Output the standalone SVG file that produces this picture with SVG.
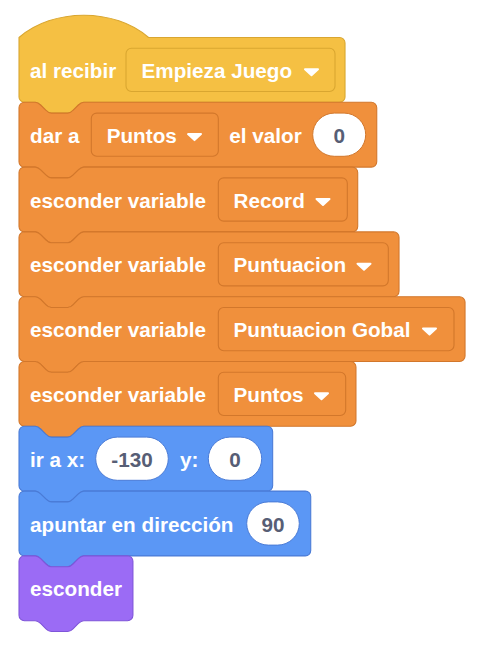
<svg xmlns="http://www.w3.org/2000/svg" width="486" height="650" viewBox="0 0 486 650">
<style>
.lbl{font-family:"Liberation Sans",Arial,sans-serif;font-weight:bold;font-size:20.7px;fill:#FFFFFF}
.num{font-family:"Liberation Sans",Arial,sans-serif;font-weight:bold;font-size:20.7px;fill:#575E75;text-anchor:middle}
.ev{fill:#F5C043;stroke:#D9A630;stroke-width:0.8}
.var{fill:#F0903C;stroke:#D2772B;stroke-width:0.8}
.mot{fill:#5B97F5;stroke:#4A7BD6;stroke-width:0.8}
.look{fill:#9B6BF5;stroke:#7F55D9;stroke-width:0.8}
.ddev{fill:#F5C043;stroke:#D9A630;stroke-width:1.1}
.ddvar{fill:#F0903C;stroke:#D2772B;stroke-width:1.1}
.oval{fill:#FFFFFF;stroke:#D2772B;stroke-width:1}
.ovalm{fill:#FFFFFF;stroke:#4A7BD6;stroke-width:1}
.arr{fill:#FFFFFF;stroke:#FFFFFF;stroke-width:2;stroke-linejoin:round}
</style>
<rect width="486" height="650" fill="#FFFFFF"/>
<g id="connectors"/>

<g id="hat-al-recibir">
<path class="ev" transform="translate(19,37.5) scale(1.35)" d="M0,0 c25,-22 71,-22 96,0 H237.5 a4,4 0 0 1 4,4 V44 a4,4 0 0 1 -4,4 H48 c-2,0 -3,1 -4,2 l-4,4 c-1,1 -2,2 -4,2 h-12 c-2,0 -3,-1 -4,-2 l-4,-4 c-1,-1 -2,-2 -4,-2 H4 a4,4 0 0 1 -4,-4 Z"/>
<text class="lbl" x="30" y="77.9">al recibir</text>
<rect class="ddev" x="126" y="48.3" width="209" height="43.2" rx="5.4"/>
<text class="lbl" x="141.5" y="77.9">Empieza Juego</text>
<path class="arr" d="M305,69.3 H318 L311.5,75.3 Z"/>
</g>

<g id="dar-a-puntos">
<path class="var" transform="translate(19,102.3) scale(1.35)" d="M0,4 A4,4 0 0 1 4,0 H12 c2,0 3,1 4,2 l4,4 c1,1 2,2 4,2 h12 c2,0 3,-1 4,-2 l4,-4 c1,-1 2,-2 4,-2 H261 a4,4 0 0 1 4,4 V44 a4,4 0 0 1 -4,4 H48 c-2,0 -3,1 -4,2 l-4,4 c-1,1 -2,2 -4,2 h-12 c-2,0 -3,-1 -4,-2 l-4,-4 c-1,-1 -2,-2 -4,-2 H4 a4,4 0 0 1 -4,-4 Z"/>
<text class="lbl" x="30" y="142.7">dar a</text>
<rect class="ddvar" x="91.3" y="113.1" width="127" height="43.2" rx="5.4"/>
<text class="lbl" x="106.7" y="142.7">Puntos</text>
<path class="arr" d="M188,134.1 H201 L194.5,140.1 Z"/>
<text class="lbl" x="229.3" y="142.7">el valor</text>
<rect class="oval" x="312.7" y="113.1" width="53" height="43.2" rx="21.6"/>
<text class="num" x="339.2" y="142.7">0</text>
</g>

<g id="esconder-record">
<path class="var" transform="translate(19,167.1) scale(1.35)" d="M0,4 A4,4 0 0 1 4,0 H12 c2,0 3,1 4,2 l4,4 c1,1 2,2 4,2 h12 c2,0 3,-1 4,-2 l4,-4 c1,-1 2,-2 4,-2 H246.9 a4,4 0 0 1 4,4 V44 a4,4 0 0 1 -4,4 H48 c-2,0 -3,1 -4,2 l-4,4 c-1,1 -2,2 -4,2 h-12 c-2,0 -3,-1 -4,-2 l-4,-4 c-1,-1 -2,-2 -4,-2 H4 a4,4 0 0 1 -4,-4 Z"/>
<text class="lbl" x="30" y="207.5">esconder variable</text>
<rect class="ddvar" x="218.3" y="177.9" width="129" height="43.2" rx="5.4"/>
<text class="lbl" x="233.5" y="207.5">Record</text>
<path class="arr" d="M316.5,198.9 H329.5 L323,204.9 Z"/>
</g>

<g id="esconder-puntuacion">
<path class="var" transform="translate(19,231.9) scale(1.35)" d="M0,4 A4,4 0 0 1 4,0 H12 c2,0 3,1 4,2 l4,4 c1,1 2,2 4,2 h12 c2,0 3,-1 4,-2 l4,-4 c1,-1 2,-2 4,-2 H277.5 a4,4 0 0 1 4,4 V44 a4,4 0 0 1 -4,4 H48 c-2,0 -3,1 -4,2 l-4,4 c-1,1 -2,2 -4,2 h-12 c-2,0 -3,-1 -4,-2 l-4,-4 c-1,-1 -2,-2 -4,-2 H4 a4,4 0 0 1 -4,-4 Z"/>
<text class="lbl" x="30" y="272.3">esconder variable</text>
<rect class="ddvar" x="218.3" y="242.7" width="170" height="43.2" rx="5.4"/>
<text class="lbl" x="233.5" y="272.3">Puntuacion</text>
<path class="arr" d="M357.5,263.7 H370.5 L364,269.7 Z"/>
</g>

<g id="esconder-puntuacion-gobal">
<path class="var" transform="translate(19,296.7) scale(1.35)" d="M0,4 A4,4 0 0 1 4,0 H12 c2,0 3,1 4,2 l4,4 c1,1 2,2 4,2 h12 c2,0 3,-1 4,-2 l4,-4 c1,-1 2,-2 4,-2 H326.4 a4,4 0 0 1 4,4 V44 a4,4 0 0 1 -4,4 H48 c-2,0 -3,1 -4,2 l-4,4 c-1,1 -2,2 -4,2 h-12 c-2,0 -3,-1 -4,-2 l-4,-4 c-1,-1 -2,-2 -4,-2 H4 a4,4 0 0 1 -4,-4 Z"/>
<text class="lbl" x="30" y="337.1">esconder variable</text>
<rect class="ddvar" x="218.3" y="307.5" width="235.7" height="43.2" rx="5.4"/>
<text class="lbl" x="233.5" y="337.1">Puntuacion Gobal</text>
<path class="arr" d="M423,328.5 H436 L429.5,334.5 Z"/>
</g>

<g id="esconder-puntos">
<path class="var" transform="translate(19,361.5) scale(1.35)" d="M0,4 A4,4 0 0 1 4,0 H12 c2,0 3,1 4,2 l4,4 c1,1 2,2 4,2 h12 c2,0 3,-1 4,-2 l4,-4 c1,-1 2,-2 4,-2 H245.6 a4,4 0 0 1 4,4 V44 a4,4 0 0 1 -4,4 H48 c-2,0 -3,1 -4,2 l-4,4 c-1,1 -2,2 -4,2 h-12 c-2,0 -3,-1 -4,-2 l-4,-4 c-1,-1 -2,-2 -4,-2 H4 a4,4 0 0 1 -4,-4 Z"/>
<text class="lbl" x="30" y="401.9">esconder variable</text>
<rect class="ddvar" x="218.3" y="372.3" width="127.4" height="43.2" rx="5.4"/>
<text class="lbl" x="233.5" y="401.9">Puntos</text>
<path class="arr" d="M315,393.3 H328 L321.5,399.3 Z"/>
</g>

<g id="ir-a-xy">
<path class="mot" transform="translate(19,426.3) scale(1.35)" d="M0,4 A4,4 0 0 1 4,0 H12 c2,0 3,1 4,2 l4,4 c1,1 2,2 4,2 h12 c2,0 3,-1 4,-2 l4,-4 c1,-1 2,-2 4,-2 H183.9 a4,4 0 0 1 4,4 V44 a4,4 0 0 1 -4,4 H48 c-2,0 -3,1 -4,2 l-4,4 c-1,1 -2,2 -4,2 h-12 c-2,0 -3,-1 -4,-2 l-4,-4 c-1,-1 -2,-2 -4,-2 H4 a4,4 0 0 1 -4,-4 Z"/>
<text class="lbl" x="30" y="466.7">ir a x:</text>
<rect class="ovalm" x="95.7" y="437.1" width="72.6" height="43.2" rx="21.6"/>
<text class="num" x="132" y="466.7">-130</text>
<text class="lbl" x="180" y="466.7">y:</text>
<rect class="ovalm" x="208.3" y="437.1" width="53.4" height="43.2" rx="21.6"/>
<text class="num" x="235" y="466.7">0</text>
</g>

<g id="apuntar-en-direccion">
<path class="mot" transform="translate(19,491.1) scale(1.35)" d="M0,4 A4,4 0 0 1 4,0 H12 c2,0 3,1 4,2 l4,4 c1,1 2,2 4,2 h12 c2,0 3,-1 4,-2 l4,-4 c1,-1 2,-2 4,-2 H212.1 a4,4 0 0 1 4,4 V44 a4,4 0 0 1 -4,4 H48 c-2,0 -3,1 -4,2 l-4,4 c-1,1 -2,2 -4,2 h-12 c-2,0 -3,-1 -4,-2 l-4,-4 c-1,-1 -2,-2 -4,-2 H4 a4,4 0 0 1 -4,-4 Z"/>
<text class="lbl" x="30" y="531.5">apuntar en dirección</text>
<rect class="ovalm" x="246.7" y="501.9" width="52.6" height="43.2" rx="21.6"/>
<text class="num" x="273" y="531.5">90</text>
</g>

<g id="esconder">
<path class="look" transform="translate(19,555.9) scale(1.35)" d="M0,4 A4,4 0 0 1 4,0 H12 c2,0 3,1 4,2 l4,4 c1,1 2,2 4,2 h12 c2,0 3,-1 4,-2 l4,-4 c1,-1 2,-2 4,-2 H80.4 a4,4 0 0 1 4,4 V44 a4,4 0 0 1 -4,4 H48 c-2,0 -3,1 -4,2 l-4,4 c-1,1 -2,2 -4,2 h-12 c-2,0 -3,-1 -4,-2 l-4,-4 c-1,-1 -2,-2 -4,-2 H4 a4,4 0 0 1 -4,-4 Z"/>
<text class="lbl" x="30" y="596.3">esconder</text>
</g>
</svg>
